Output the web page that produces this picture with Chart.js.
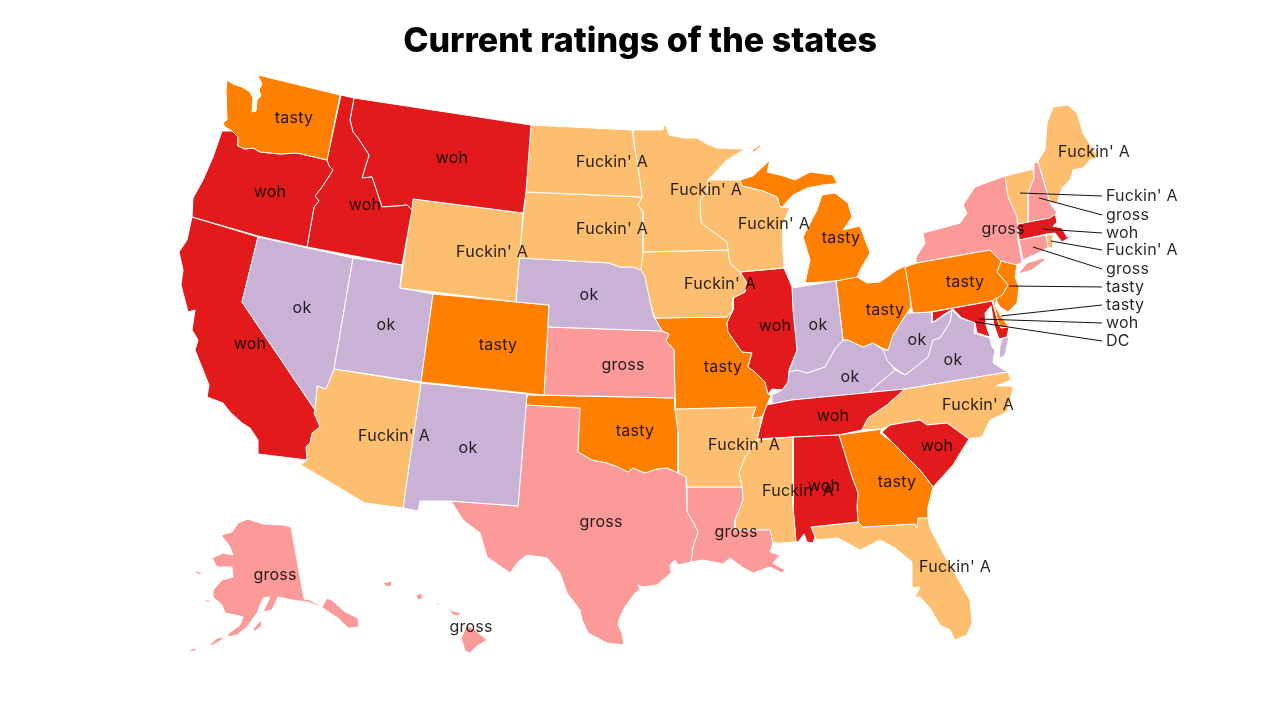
<!DOCTYPE html>
<html>
<head>
<meta charset="utf-8">
<title>Current ratings of the states</title>
<script src="https://cdn.jsdelivr.net/npm/chart.js@4"></script>
<style>
  html, body { margin: 0; background: #fff; }
  canvas { display: block; }
</style>
</head>
<body>
<canvas id="stateChart" width="1280" height="720"></canvas>
<script>
'use strict';

var chartTitle = "Current ratings of the states";
var ratingNames = ["woh", "tasty", "Fuckin' A", "gross", "ok"];
var ratingColors = ["#e31a1c", "#ff7f00", "#fdbf6f", "#fb9a99", "#cab2d6"];

// outlines, one list per ring
var WA = [[258,75],[340,95],[327,160],[297,153],[280,154],[270,153],[260,152],[253,148],[245,149],[238,146],[238,137],[232,131],[225,127],[223,123],[227,120],[226,90],[227,80],[233,84],[242,87],[250,92],[253,98],[252,112],[256,111],[257,100],[261,96],[259,90],[262,84],[259,78],[258,75]];
var OR = [[222,131],[232,131],[238,137],[238,146],[245,149],[253,148],[260,152],[270,153],[280,154],[297,153],[327,160],[329,166],[333,170],[322,187],[315,196],[319,201],[314,207],[307,247],[258,236],[192,217],[193,198],[203,180],[213,157],[222,131]];
var ID = [[341,95],[354,98],[350,120],[353,132],[358,138],[369,155],[365,168],[362,178],[372,177],[377,192],[382,207],[397,206],[407,205],[412,210],[402,265],[307,247],[314,207],[319,201],[315,196],[322,187],[333,170],[329,166],[327,160],[341,95]];
var MT = [[354,98],[531,125],[526,192],[523,213],[413,199],[412,210],[407,205],[397,206],[382,207],[377,192],[372,177],[362,178],[365,168],[369,155],[358,138],[353,132],[350,120],[354,98]];
var WY = [[413,199],[523,213],[516,302],[400,288],[413,199]];
var ND = [[531,125],[632,130],[635,150],[638,167],[642,197],[526,192],[531,125]];
var SD = [[526,192],[642,197],[638,205],[643,212],[643,252],[641,270],[633,267],[620,267],[609,263],[519,258],[526,192]];
var NE = [[519,258],[609,263],[620,267],[633,267],[641,270],[645,277],[648,292],[653,315],[662,331],[548,327],[549,305],[516,302],[519,258]];
var CO = [[433,294],[549,305],[544,395],[421,382],[433,294]];
var UT = [[353,258],[402,265],[400,288],[433,294],[421,382],[334,369],[353,258]];
var NV = [[258,237],[353,258],[334,369],[326,389],[317,386],[315,410],[242,302],[258,237]];
var CA = [[192,217],[258,237],[242,302],[315,410],[314,413],[320,427],[312,433],[310,443],[306,447],[307,460],[258,454],[258,440],[250,428],[242,423],[230,412],[223,403],[207,397],[209,385],[205,375],[195,350],[198,340],[192,330],[195,310],[188,312],[181,285],[183,270],[179,252],[187,240],[192,217]];
var AZ = [[334,369],[421,383],[403,508],[365,503],[301,465],[307,460],[306,447],[310,443],[312,433],[320,427],[314,413],[315,410],[317,386],[326,389],[334,369]];
var NM = [[421,383],[527,394],[518,506],[450,501],[420,501],[418,511],[403,508],[421,383]];
var KS = [[548,327],[662,331],[669,334],[666,341],[674,350],[675,398],[544,395],[548,327]];
var OK = [[527,395],[675,398],[675,410],[678,432],[678,473],[667,468],[657,469],[645,473],[633,468],[628,472],[618,467],[607,463],[592,460],[578,452],[580,408],[526,405],[527,395]];
var TX = [[526,405],[580,408],[578,452],[592,460],[607,463],[618,467],[628,472],[633,468],[645,473],[657,469],[667,468],[678,473],[686,477],[687,512],[693,522],[698,532],[693,547],[691,562],[678,565],[675,560],[670,565],[671,573],[657,585],[642,587],[638,585],[640,590],[635,593],[625,607],[620,617],[618,625],[622,633],[624,645],[607,643],[588,633],[582,620],[580,610],[567,593],[560,573],[547,558],[527,555],[518,562],[510,573],[487,557],[480,533],[463,520],[451,501],[518,506],[526,405]];
var MN = [[633,130],[663,130],[665,123],[669,135],[683,138],[697,138],[707,144],[717,148],[745,149],[727,160],[708,180],[707,192],[700,200],[701,223],[713,232],[727,242],[728,250],[642,252],[643,212],[638,205],[642,197],[638,167],[635,150],[633,130]];
var WI = [[700,200],[707,192],[708,180],[740,180],[742,186],[763,191],[777,197],[780,207],[790,208],[783,223],[783,250],[784,268],[740,272],[730,263],[728,250],[727,242],[713,232],[701,223],[700,200]];
var IA = [[642,252],[728,250],[730,263],[740,272],[747,283],[745,292],[733,298],[733,310],[727,317],[655,318],[648,297],[640,272],[642,252]];
var IL = [[740,272],[784,268],[792,287],[793,310],[797,350],[789,370],[788,382],[782,390],[772,389],[768,394],[765,382],[755,372],[748,367],[752,353],[742,352],[728,332],[727,323],[733,310],[733,298],[745,292],[747,283],[740,272]];
var IN = [[792,288],[836,281],[843,340],[835,349],[825,367],[807,373],[797,370],[789,372],[797,350],[793,310],[792,288]];
var OH = [[836,281],[857,277],[867,283],[880,282],[897,270],[905,266],[910,297],[911,307],[907,313],[893,335],[888,350],[882,348],[873,343],[863,347],[848,340],[843,340],[836,281]];
var MI = [[805,283],[810,260],[803,237],[817,210],[822,195],[835,193],[848,203],[852,217],[843,230],[860,226],[870,253],[860,270],[857,278],[836,281],[805,283]];
var MIupper = [[740,180],[753,176],[770,160],[767,172],[780,175],[795,180],[810,172],[833,175],[837,183],[843,183],[823,185],[807,188],[793,195],[782,207],[780,207],[777,197],[763,191],[742,186],[740,180]];
var MIisle = [[752,151],[760,145],[761,146],[754,152],[752,151]];
var MO = [[655,318],[727,317],[733,310],[727,323],[728,332],[742,352],[752,353],[748,367],[755,372],[765,382],[768,394],[771,395],[767,405],[762,417],[752,418],[756,407],[675,409],[675,398],[674,350],[666,341],[669,334],[662,331],[655,318]];
var AR = [[675,409],[756,407],[752,418],[762,417],[757,440],[745,457],[739,473],[742,487],[687,487],[686,478],[678,473],[678,432],[675,409]];
var LA = [[687,487],[742,487],[743,500],[735,520],[735,530],[770,530],[773,543],[770,552],[780,555],[773,563],[785,570],[782,573],[770,567],[753,573],[742,567],[730,558],[723,564],[703,560],[691,562],[693,547],[698,532],[693,522],[687,512],[687,487]];
var MS = [[757,440],[793,437],[793,507],[796,542],[782,543],[773,543],[770,530],[735,530],[735,520],[743,500],[742,487],[739,473],[745,457],[757,440]];
var AL = [[793,437],[839,435],[852,477],[858,493],[857,507],[858,522],[811,527],[815,537],[813,543],[807,542],[804,534],[798,542],[796,542],[793,507],[793,437]];
var GA = [[839,435],[882,429],[880,433],[892,442],[910,460],[920,470],[933,487],[928,507],[928,518],[918,518],[917,528],[915,524],[863,527],[858,522],[857,507],[858,493],[852,477],[839,435]];
var SC = [[882,432],[890,425],[920,420],[927,425],[947,423],[969,439],[962,450],[953,465],[933,487],[920,470],[910,460],[892,442],[882,432]];
var NC = [[905,389],[1008,372],[1011,380],[996,386],[1012,386],[1013,390],[1007,412],[990,420],[982,437],[969,439],[947,423],[927,425],[920,420],[890,425],[882,429],[862,430],[868,418],[887,405],[905,389]];
var TN = [[757,439],[766,405],[792,400],[905,389],[887,405],[868,418],[862,430],[839,435],[793,437],[757,439]];
var KY = [[772,404],[772,395],[782,390],[788,382],[789,372],[797,370],[807,373],[825,367],[835,349],[843,340],[848,340],[863,347],[873,343],[883,350],[887,360],[895,370],[883,380],[868,393],[792,400],[772,404]];
var WV = [[912,313],[932,312],[932,323],[942,317],[952,310],[950,322],[940,338],[933,340],[928,357],[918,365],[905,375],[895,368],[883,358],[881,350],[888,350],[893,335],[907,313],[912,313]];
var VA = [[868,393],[883,380],[895,370],[905,375],[918,365],[928,357],[933,340],[940,338],[950,322],[952,310],[960,318],[975,323],[974,333],[990,338],[992,347],[995,350],[993,363],[1004,370],[1008,372],[905,389],[868,393]];
var VAshore = [[1003,338],[1009,337],[1005,355],[999,359],[1000,345],[1003,338]];
var MD = [[932,312],[992,301],[998,322],[1001,328],[1009,327],[1007,337],[999,339],[994,325],[991,306],[985,313],[986,325],[990,337],[977,333],[975,323],[962,318],[953,309],[943,315],[932,323],[932,312]];
var DE = [[993,300],[997,298],[995,305],[1000,315],[1009,327],[1001,328],[998,322],[993,300]];
var PA = [[905,267],[917,263],[990,250],[1001,261],[997,272],[1008,285],[1002,295],[992,301],[913,315],[910,297],[905,267]];
var NJ = [[1001,261],[1017,265],[1015,277],[1019,287],[1017,303],[1008,312],[1000,307],[995,298],[1002,295],[1008,285],[997,272],[1001,261]];
var NY = [[916,263],[916,257],[925,243],[923,233],[942,228],[960,223],[967,213],[963,205],[975,187],[1005,176],[1008,197],[1017,217],[1018,240],[1022,263],[1015,265],[1001,261],[990,250],[916,263]];
var NYisland = [[1018,274],[1027,263],[1043,258],[1045,260],[1032,270],[1018,274]];
var VT = [[1005,176],[1033,169],[1034,178],[1028,193],[1028,222],[1018,224],[1016,215],[1008,197],[1005,176]];
var NH = [[1034,163],[1038,162],[1050,203],[1057,213],[1050,218],[1028,222],[1028,193],[1034,178],[1034,163]];
var ME = [[1038,161],[1045,150],[1047,123],[1053,107],[1068,105],[1077,113],[1083,133],[1098,157],[1090,160],[1083,168],[1073,170],[1070,180],[1062,188],[1057,203],[1050,203],[1038,161]];
var MA = [[1018,224],[1050,217],[1055,213],[1057,222],[1053,226],[1062,228],[1067,237],[1075,234],[1062,242],[1055,233],[1047,234],[1019,240],[1018,224]];
var CT = [[1019,240],[1046,235],[1048,248],[1023,260],[1019,240]];
var RI = [[1046,235],[1053,234],[1053,248],[1048,248],[1046,235]];
var FL = [[811,527],[858,522],[863,527],[915,524],[917,528],[918,518],[928,518],[930,528],[943,553],[970,600],[972,623],[967,635],[955,640],[950,630],[940,625],[930,608],[920,597],[915,597],[920,587],[912,588],[912,562],[895,548],[880,540],[860,550],[838,538],[817,540],[815,537],[811,527]];
var AK = [[291,527],[304,599],[310,600],[322,607],[327,598],[333,601],[345,612],[358,618],[359,627],[348,628],[338,618],[330,613],[323,608],[308,602],[292,600],[278,597],[272,610],[263,612],[270,597],[263,598],[257,613],[247,627],[237,635],[228,637],[228,634],[240,625],[243,617],[235,615],[225,613],[222,605],[213,597],[213,590],[222,580],[233,577],[232,567],[217,567],[212,558],[223,553],[233,555],[230,547],[221,535],[232,532],[238,523],[248,519],[263,524],[283,525],[291,527]];
var AKkodiak = [[253,629],[262,619],[262,626],[255,631],[253,629]];
var AKchain = [[207,645],[213,642],[217,638],[225,637],[220,641],[213,645],[207,645]];
var AKchainWest = [[187,652],[192,649],[197,648],[195,651],[187,652]];
var AKnunivak = [[194,570],[201,573],[202,575],[197,574],[194,570]];
var AKmatthew = [[205,600],[210,600],[209,602],[205,602],[205,600]];
var HIkauai = [[383,583],[392,581],[392,586],[387,587],[383,583]];
var HIoahu = [[416,595],[421,593],[423,598],[418,600],[416,595]];
var HImolokai = [[435,603],[440,603],[438,605],[435,603]];
var HImaui = [[448,608],[453,611],[461,613],[458,616],[453,615],[448,608]];
var HIbig = [[467,625],[475,630],[487,640],[477,646],[470,653],[465,651],[461,638],[467,625]];

// every ring with the rating of its state
var mapRings = [WA, OR, ID, MT, WY, ND, SD, NE, CO, UT, NV, CA, AZ, NM, KS, OK, TX, MN, WI, IA, IL, IN, OH, MI, MIupper, MIisle, MO, AR, LA, MS, AL, GA, SC, NC, TN, KY, WV, VA, VAshore, MD, DE, PA, NJ, NY, NYisland, VT, NH, ME, MA, CT, RI, FL, AK, AKkodiak, AKchain, AKchainWest, AKnunivak, AKmatthew, HIkauai, HIoahu, HImolokai, HImaui, HIbig];
var ringRatings = ["tasty", "woh", "woh", "woh", "Fuckin' A", "Fuckin' A", "Fuckin' A", "ok", "tasty", "ok", "ok", "woh", "Fuckin' A", "ok", "gross", "tasty", "gross", "Fuckin' A", "Fuckin' A", "Fuckin' A", "woh", "ok", "tasty", "tasty", "tasty", "tasty", "tasty", "Fuckin' A", "gross", "Fuckin' A", "woh", "tasty", "woh", "Fuckin' A", "woh", "ok", "ok", "ok", "ok", "woh", "tasty", "tasty", "tasty", "gross", "gross", "Fuckin' A", "gross", "Fuckin' A", "woh", "gross", "Fuckin' A", "Fuckin' A", "gross", "gross", "gross", "gross", "gross", "gross", "gross", "gross", "gross", "gross", "gross"];

// labels drawn on the states
var stateLabels = ["tasty", "woh", "woh", "woh", "Fuckin' A", "Fuckin' A", "Fuckin' A", "ok", "ok", "ok", "tasty", "gross", "woh", "Fuckin' A", "ok", "tasty", "gross", "Fuckin' A", "Fuckin' A", "tasty", "Fuckin' A", "woh", "ok", "tasty", "tasty", "ok", "woh", "Fuckin' A", "Fuckin' A", "woh", "tasty", "woh", "Fuckin' A", "ok", "ok", "tasty", "gross", "Fuckin' A", "gross", "Fuckin' A", "gross", "gross"];
var stateLabelX = [294, 270, 365, 452, 612, 612, 492, 589, 302, 386, 498, 623, 250, 394, 468, 635, 601, 706, 774, 841, 720, 775, 818, 885, 723, 850, 833, 744, 798, 824, 897, 937, 978, 917, 953, 965, 1003, 1094, 736, 955, 275, 471];
var stateLabelY = [118, 192, 205, 158, 162, 229, 252, 295, 308, 325, 345, 365, 344, 436, 448, 431, 522, 190, 224, 238, 284, 326, 325, 310, 367, 377, 416, 445, 491, 486, 482, 446, 405, 340, 360, 282, 229, 152, 532, 567, 575, 627];

// small states labelled outside the map, with their leader lines
var sideLabels = ["Fuckin' A", "gross", "woh", "Fuckin' A", "gross", "tasty", "tasty", "woh", "DC"];
var sideLabelY = [196, 215, 233, 250, 269, 287, 305, 323, 341];
var leaderFromX = [1020, 1039, 1043, 1051, 1033, 1009, 1001, 979, 975];
var leaderFromY = [193, 198, 229, 241, 247, 286, 316, 319, 322];
var sideLabelX = 1106;
var leaderEndX = 1102;

var datasets = [];

for (var i = 0; i < mapRings.length; i++) {
  datasets.push({
    data: mapRings[i].map(function (p) { return { x: p[0], y: p[1] }; }),
    showLine: true,
    fill: "shape",
    backgroundColor: ratingColors[ratingNames.indexOf(ringRatings[i])],
    borderColor: "#ffffff",
    borderWidth: 1,
    pointRadius: 0,
    tension: 0,
    order: 2,
  });
}

for (var j = 0; j < sideLabels.length; j++) {
  datasets.push({
    data: [
      { x: leaderFromX[j], y: leaderFromY[j] },
      { x: leaderEndX, y: sideLabelY[j] },
    ],
    showLine: true,
    fill: false,
    borderColor: "#111111",
    borderWidth: 1,
    pointRadius: 0,
    order: 1,
  });
}

// puts the state names on top of the map
var mapLabels = {
  id: "mapLabels",
  afterDatasetsDraw: function (chart) {
    var c = chart.ctx;
    var xScale = chart.scales.x;
    var yScale = chart.scales.y;
    c.save();
    c.font = "16px Inter";
    c.letterSpacing = "0.2px";
    c.fillStyle = "rgba(0, 0, 0, 0.85)";
    c.textBaseline = "middle";
    c.textAlign = "center";
    stateLabels.forEach(function (text, k) {
      c.fillText(text, xScale.getPixelForValue(stateLabelX[k]), yScale.getPixelForValue(stateLabelY[k]));
    });
    c.textAlign = "left";
    sideLabels.forEach(function (text, k) {
      c.fillText(text, xScale.getPixelForValue(sideLabelX), yScale.getPixelForValue(sideLabelY[k]));
    });
    c.restore();
  },
};

var ctx = document.getElementById("stateChart").getContext("2d");

new Chart(ctx, {
  type: "scatter",
  data: { datasets: datasets },
  plugins: [mapLabels],
  options: {
    responsive: false,
    animation: false,
    layout: { padding: 0 },
    scales: {
      x: { type: "linear", min: 0, max: 1280, display: false },
      // the title box takes the top 60 pixels
      y: { type: "linear", min: 60, max: 720, reverse: true, display: false },
    },
    plugins: {
      legend: { display: false },
      tooltip: { enabled: false },
      title: {
        display: true,
        text: chartTitle,
        color: "#000000",
        font: { family: "Inter", size: 34, weight: "800", lineHeight: 1.088 },
        padding: { top: 23, bottom: 0 },
      },
    },
  },
});
</script>
</body>
</html>
